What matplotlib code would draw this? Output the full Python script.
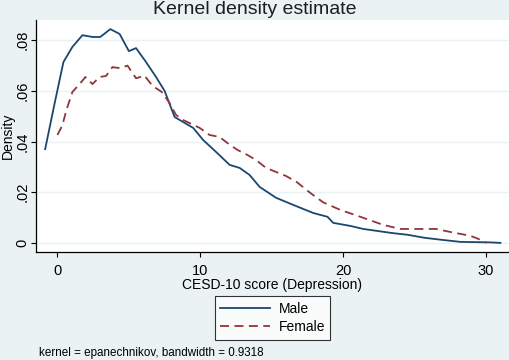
import matplotlib
matplotlib.use('Agg')
import matplotlib.pyplot as plt

plt.rcParams['font.family'] = ['Liberation Sans', 'DejaVu Sans']

# male density curve
male_x = [-0.86, -0.2, 0.42, 1.05, 1.75, 2.45, 3.0, 3.7, 4.35, 5.0, 5.5, 6.2, 6.9, 7.5,
          8.2, 8.8, 9.5, 10.2, 11.1, 12.05, 12.75, 13.45, 14.15, 15.3, 16.5, 17.9,
          18.9, 19.3, 20.5, 21.4, 22.4, 23.4, 24.5, 25.7, 26.9, 28.2, 30.3, 31.0]
male_y = [0.037, 0.055, 0.0714, 0.0774, 0.082, 0.0813, 0.0813, 0.0844, 0.0825, 0.0757,
          0.0769, 0.0714, 0.0655, 0.060, 0.0497, 0.0477, 0.0454, 0.0406, 0.0359, 0.0308,
          0.0296, 0.0268, 0.0221, 0.0178, 0.015, 0.0118, 0.0103, 0.0079, 0.0067, 0.0055,
          0.0047, 0.0039, 0.0032, 0.002, 0.0012, 0.0004, 0.0002, 0.0]

# female density curve
female_x = [0.0, 0.35, 0.63, 1.05, 1.55, 1.96, 2.45, 2.94, 3.4, 3.85, 4.35, 4.9, 5.5,
            6.1, 6.65, 7.3, 7.85, 8.3, 8.8, 9.25, 9.95, 10.65, 11.35, 11.9, 12.6, 13.3,
            13.9, 14.6, 15.3, 16.0, 16.75, 17.7, 18.6, 19.8, 21.2, 22.8, 24.0, 25.2,
            26.5, 27.5, 28.9, 29.8, 30.0]
female_y = [0.0426, 0.0465, 0.0525, 0.0596, 0.0627, 0.0655, 0.0627, 0.0655, 0.0659,
            0.0694, 0.069, 0.070, 0.065, 0.066, 0.062, 0.0596, 0.0552, 0.0505, 0.0485,
            0.0473, 0.0454, 0.0426, 0.0418, 0.0394, 0.0367, 0.0347, 0.0327, 0.0296,
            0.028, 0.0264, 0.024, 0.0197, 0.016, 0.013, 0.0103, 0.0071, 0.0055, 0.0055,
            0.0055, 0.0043, 0.0028, 0.0008, 0.0]

xticks = [0, 10, 20, 30]
yticks = [0, 0.02, 0.04, 0.06, 0.08]
ylabels = ['0', '.02', '.04', '.06', '.08']

bg = '#EAF2F3'
fig = plt.figure(figsize=(5.1, 3.6), dpi=100, facecolor=bg)
ax = fig.add_axes([36/510, 1 - 252/360, 473/510, 232/360])
ax.set_facecolor('white')

ax.plot(male_x, male_y, color='#1A476F', lw=1.3, label='Male')
ax.plot(female_x, female_y, color='#90353B', lw=1.3, ls=(0, (5, 3)), label='Female')

ax.set_xlim(-1.5, 31.6)
ax.set_ylim(-0.0036, 0.088)
ax.set_xticks(xticks)
ax.set_yticks(yticks)
ax.set_yticklabels(ylabels, rotation=90, va='center')
ax.tick_params(labelsize=10.5, length=3.8, width=0.8, colors='black')
ax.tick_params(axis='y', pad=1)
ax.tick_params(axis='x', pad=4.5)
ax.grid(axis='y', color=bg, lw=1)
ax.set_axisbelow(True)
for s in ['top', 'right']:
    ax.spines[s].set_visible(False)
for s in ['left', 'bottom']:
    ax.spines[s].set_linewidth(0.9)

ax.set_xlabel('CESD-10 score (Depression)', fontsize=10, labelpad=0)
ax.set_ylabel('Density', fontsize=10, va='center')
ax.yaxis.set_label_coords(-28.5/473, 0.5)

fig.text(0.5, 1 - 10/360, 'Kernel density estimate', ha='center', va='center',
         fontsize=14, color='#1e1e1e')

leg = ax.legend(loc='center', bbox_to_anchor=(272.5/510, 1 - 318/360), bbox_transform=fig.transFigure,
                fontsize=10, frameon=True, fancybox=False, edgecolor='black',
                handlelength=3.6, borderpad=0.4, labelspacing=0.3, handletextpad=0.6)
leg.get_frame().set_linewidth(0.8)

fig.text(39/510, 1 - 353/360, 'kernel = epanechnikov, bandwidth = 0.9318', ha='left', va='center',
         fontsize=8.4)

fig.savefig('out.png', dpi=100, facecolor=bg)
